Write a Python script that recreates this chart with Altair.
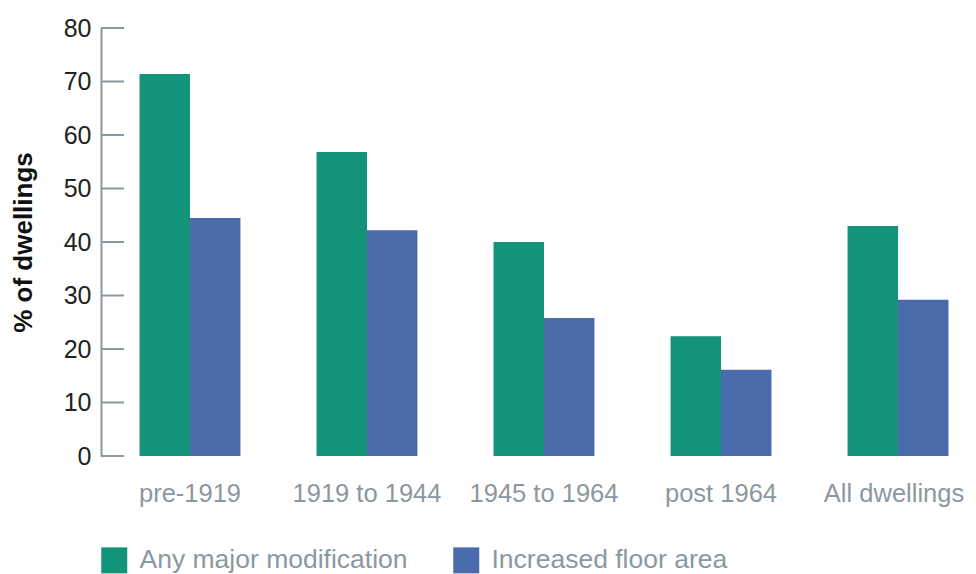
import altair as alt
import pandas as pd

categories = ["pre-1919", "1919 to 1944", "1945 to 1964", "post 1964", "All dwellings"]
series = ["Any major modification", "Increased floor area"]
any_major = [71.4, 56.8, 40.0, 22.4, 43.0]
floor_area = [44.5, 42.2, 25.8, 16.1, 29.2]
y_ticks = [0, 10, 20, 30, 40, 50, 60, 70, 80]
colors = ["#12937A", "#496BAA"]

rows = []
for c, a, f in zip(categories, any_major, floor_area):
    rows.append({"cat": c, "series": series[0], "value": a})
    rows.append({"cat": c, "series": series[1], "value": f})
df = pd.DataFrame(rows)
ticks_df = pd.DataFrame({"v": y_ticks})

GRAY = "#8D979E"
FONT = "Liberation Sans"
AXIS_OFFSET = 19

yscale = alt.Scale(domain=[0, 80], nice=False)

bars = alt.Chart(df).mark_bar().encode(
    x=alt.X("cat:N", sort=categories, title=None,
            scale=alt.Scale(paddingInner=0.43, paddingOuter=0.1104),
            axis=alt.Axis(domain=False, ticks=False, labelAngle=0, labelFontSize=25.5,
                          labelColor=GRAY, labelFont=FONT, labelPadding=25,
                          labelOffset=alt.expr("datum.value == 'All dwellings' ? -4 : 0"))),
    xOffset=alt.XOffset("series:N", sort=series),
    y=alt.Y("value:Q", scale=yscale, title="% of dwellings",
            axis=alt.Axis(values=y_ticks, grid=False, ticks=False, domainColor=GRAY,
                          domainWidth=2, offset=AXIS_OFFSET, labelFontSize=25,
                          labelColor="#222222", labelFont=FONT, labelPadding=10,
                          titleFontSize=26, titleFont=FONT, titleFontWeight="bold",
                          titleColor="#111111", titlePadding=27)),
    color=alt.Color("series:N", sort=series,
                    scale=alt.Scale(domain=series, range=colors),
                    legend=alt.Legend(title=None, orient="none", legendX=-AXIS_OFFSET,
                                      legendY=519, direction="horizontal", columns=2,
                                      symbolType="square", symbolSize=676,
                                      symbolStrokeWidth=0, labelFontSize=26.5,
                                      labelColor=GRAY, labelFont=FONT, labelOffset=12,
                                      columnPadding=45, labelLimit=400)),
)

tick_rules = alt.Chart(ticks_df).mark_rule(color=GRAY, strokeWidth=2).encode(
    y=alt.Y("v:Q", scale=yscale),
    x=alt.value(-AXIS_OFFSET),
    x2=alt.value(23 - AXIS_OFFSET),
)

chart = alt.layer(bars, tick_rules).properties(
    width=848, height=428,
    autosize=alt.AutoSizeParams(type="none"),
    padding={"left": 112, "top": 20, "right": 0, "bottom": 118},
).configure_view(stroke=None)

chart.save("out.html", embed_options={"renderer": "svg", "actions": False})
